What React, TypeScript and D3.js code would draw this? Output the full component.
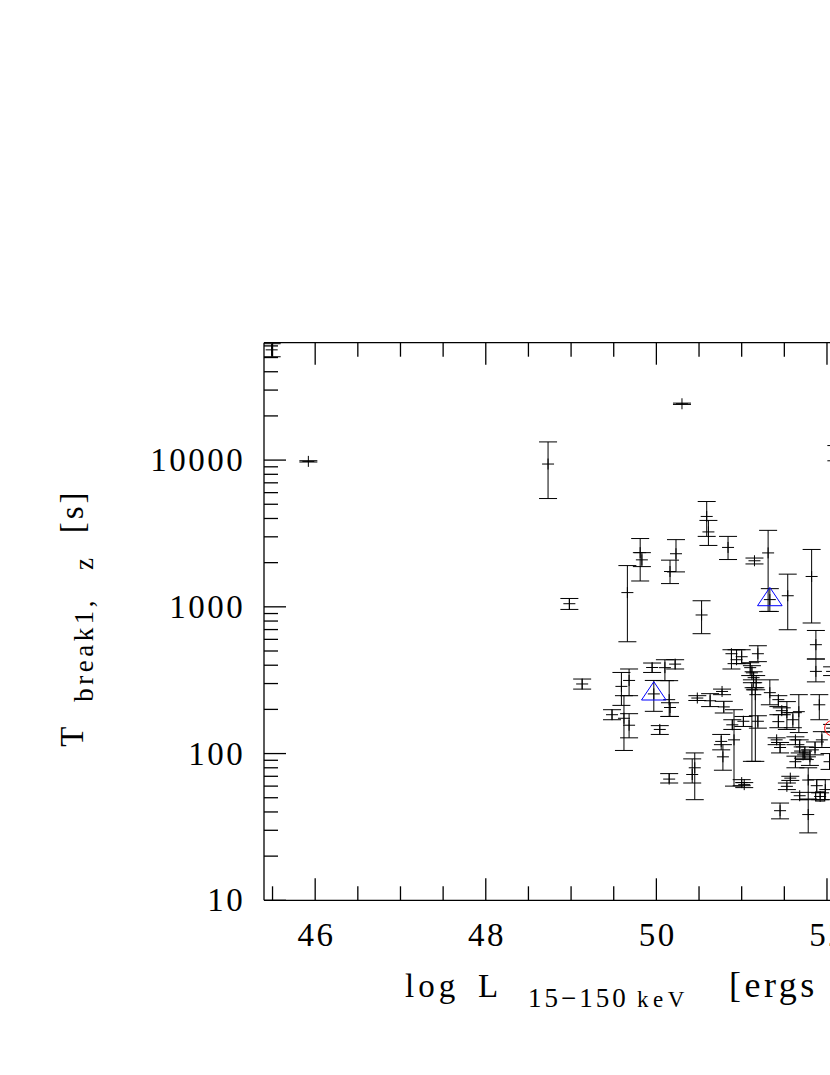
import React from "react";
import * as d3 from "d3";

// log L (15-150 keV), T_break1 (s), lower / upper error-bar ends (s)
const logL = [
  45.49, 45.92, 48.73, 50.30, 52.11, 50.59, 50.61, 50.84, 49.66, 49.81,
  49.83, 50.23, 50.16, 48.98, 51.15, 51.31, 51.33, 50.53, 51.54, 51.82,
  51.87, 51.87, 49.13, 49.68, 49.59, 49.68, 49.62, 49.48, 49.97, 49.95,
  50.10, 50.22, 50.15, 50.16, 50.04, 50.15, 50.45, 50.42, 50.76, 50.78,
  50.48, 50.63, 50.77, 50.79, 50.88, 50.94, 51.00, 51.19, 51.10, 51.12,
  51.14, 51.17, 51.12, 51.16, 51.33, 51.43, 51.53, 51.67, 51.91, 51.47,
  51.43, 51.02, 51.19, 50.91, 50.89, 51.00, 51.03, 51.63, 51.68, 51.74,
  51.80, 51.86, 51.94, 51.57, 51.63, 51.72, 51.68, 51.78, 51.88, 51.92,
  51.98, 51.45, 51.53, 51.60, 51.45, 51.41, 52.06, 52.06, 52.03, 51.78,
];
const tBreak = [
  56400, 9800, 9400, 24200, 11200, 4130, 3240, 2540, 1250, 2340,
  2090, 2300, 1740, 1050, 2060, 2330, 1120, 880, 1190, 1610,
  552, 363, 298, 315, 287, 156, 174, 184, 255, 386,
  385, 407, 233, 206, 146, 67, 80, 72, 121, 95,
  239, 229, 265, 208, 479, 436, 457, 479, 385, 355,
  329, 304, 272, 252, 260, 233, 190, 193, 215, 196,
  165, 166, 166, 124, 157, 63.4, 61.4, 124, 111, 101,
  95, 110, 124, 68, 88, 98, 51.6, 38.4, 60.4, 51,
  56.8, 40.8, 59.8, 170, 110, 124, 363, 149, 88, 66,
];
const tLow = [
  50600, 9700, 5470, 23950, 9890, 3020, 2620, 2100, 578, 1500,
  1880, 1730, 1440, 960, 1960, 930, 930, 656, 698, 776,
  441, 308, 275, 248, 213, 128, 105, 170, 194, 357,
  314, 377, 179, 179, 135, 63, 48.5, 63, 106, 77,
  230, 209, 252, 189, 377, 410, 410, 423, 340, 318,
  281, 272, 88.5, 88.5, 215, 209, 146, 139, 170, 184,
  150, 153, 149, 60, 146, 60.4, 58.6, 115, 101, 91,
  83, 98, 110, 65.6, 80, 93, 48.5, 28.8, 54.4, 48.5,
  48.5, 35.9, 56.8, 150, 101, 115, 340, 140, 78, 49,
];
const tHigh = [
  62100, 9900, 13300, 24450, 12560, 5220, 3880, 3020, 1910, 2920,
  2340, 2870, 2080, 1140, 2150, 3320, 1330, 1100, 1670, 2460,
  690, 441, 322, 377, 357, 187, 248, 199, 315, 414,
  436, 436, 314, 222, 155, 73, 101, 92, 135, 115,
  248, 256, 275, 227, 510, 510, 510, 543, 416, 397,
  361, 340, 304, 281, 318, 248, 226, 252, 252, 205,
  184, 179, 181, 199, 170, 66.4, 63.4, 130, 124, 111,
  106, 120, 141, 70, 96, 104, 54.4, 48.5, 66.4, 54,
  66.4, 46, 63, 190, 119, 128, 390, 158, 100, 80,
];
// special markers
const triangleIdx = [16, 28];
const circleIdx = [87];
const squareIdx = [79];

const xTicksMajor = [46, 48, 50, 52];
const yTicksMajor = [10, 100, 1000, 10000];

const W = 830;
const H = 1075;

export default function App() {
  const x = d3.scaleLinear().domain([45.4, 53.4]).range([264, 946.4]);
  const y = d3.scaleLog().domain([10, Math.pow(10, 4.8)]).range([900.3, 342.7]);
  const [x0, x1] = x.range();
  const [yB, yT] = y.range();

  const xMinor = d3.range(45.5, 53.01, 0.5).filter((v) => Math.abs(v % 2) > 0.01);
  const yMinor: number[] = [];
  for (let e = 1; e <= 4; e++) {
    for (let m = 2; m <= 9; m++) {
      const v = m * Math.pow(10, e);
      if (v < Math.pow(10, 4.8)) yMinor.push(v);
    }
  }

  const font = "'Liberation Serif', 'Times New Roman', serif";
  const cap = 9; // half-width of error-bar caps (px)
  const plusH = 6; // "+" marker half-width
  const plusV = 5.5; // "+" marker half-height
  const bars = logL.map((lx, i) => {
    const px = x(lx);
    const py = y(tBreak[i]);
    const yl = y(tLow[i]);
    const yh = y(tHigh[i]);
    return (
      <g key={i} stroke="#000" strokeWidth={1} fill="none">
        <line x1={px} x2={px} y1={yl} y2={yh} />
        <line x1={px - cap} x2={px + cap} y1={yl} y2={yl} />
        <line x1={px - cap} x2={px + cap} y1={yh} y2={yh} />
        <line x1={px - plusH} x2={px + plusH} y1={py} y2={py} />
        <line x1={px} x2={px} y1={py - plusV} y2={py + plusV} />
      </g>
    );
  });

  return (
    <svg
      width={W}
      height={H}
      style={{ position: "absolute", left: 0, top: 0, background: "#fff" }}
    >
      <defs>
        <clipPath id="plot">
          <rect x={x0} y={yT} width={x1 - x0} height={yB - yT} />
        </clipPath>
      </defs>
      <rect x={0} y={0} width={W} height={H} fill="#fff" />

      <g clipPath="url(#plot)">
        {bars}
        {triangleIdx.map((i) => {
          const px = x(logL[i]);
          const py = y(tBreak[i]);
          return (
            <path
              key={"t" + i}
              d={`M${px},${py - 12.2}L${px + 12.3},${py + 6.1}L${px - 12.3},${py + 6.1}Z`}
              fill="none"
              stroke="#0000ff"
              strokeWidth={1}
            />
          );
        })}
        {circleIdx.map((i) => (
          <circle key={"c" + i} cx={x(logL[i])} cy={y(tBreak[i])} r={7.5} fill="none" stroke="#ff0000" strokeWidth={1} />
        ))}
        {squareIdx.map((i) => (
          <rect key={"s" + i} x={x(logL[i]) - 4.5} y={y(tBreak[i]) - 4.5} width={9} height={9} fill="none" stroke="#000" strokeWidth={1.2} />
        ))}
      </g>

      {/* frame */}
      <g stroke="#000" strokeWidth={1.3} fill="none">
        <line x1={x0} x2={x0} y1={yT} y2={yB} />
        <line x1={x0} x2={x1} y1={yT} y2={yT} />
        <line x1={x0} x2={x1} y1={yB} y2={yB} />
        <line x1={x1} x2={x1} y1={yT} y2={yB} />
        {xTicksMajor.map((v) => (
          <g key={"xm" + v}>
            <line x1={x(v)} x2={x(v)} y1={yB} y2={yB - 22} />
            <line x1={x(v)} x2={x(v)} y1={yT} y2={yT + 22} />
          </g>
        ))}
        {xMinor.map((v) => (
          <g key={"xn" + v}>
            <line x1={x(v)} x2={x(v)} y1={yB} y2={yB - 14} />
            <line x1={x(v)} x2={x(v)} y1={yT} y2={yT + 14} />
          </g>
        ))}
        {yTicksMajor.map((v) => (
          <line key={"ym" + v} x1={x0} x2={x0 + 22} y1={y(v)} y2={y(v)} />
        ))}
        {yMinor.map((v) => (
          <line key={"yn" + v} x1={x0} x2={x0 + 14} y1={y(v)} y2={y(v)} />
        ))}
      </g>

      {/* tick labels */}
      <g fontFamily={font} fontSize={33} fill="#000" style={{ letterSpacing: "2.5px" }}>
        {xTicksMajor.map((v) => (
          <text key={"xl" + v} x={x(v) + 1.25} y={946} textAnchor="middle">
            {v}
          </text>
        ))}
        {yTicksMajor.map((v) => (
          <text key={"yl" + v} x={245.2} y={y(v) + 11} textAnchor="end">
            {v}
          </text>
        ))}
      </g>

      {/* x axis label */}
      <g fontFamily={font} fill="#000">
        <text x={405} y={996.5} fontSize={33} style={{ letterSpacing: "4px" }}>log</text>
        <text x={478} y={996.5} fontSize={33}>L</text>
        <text x={528} y={1006.7} fontSize={27} style={{ letterSpacing: "3px" }}>15−150</text>
        <text x={637} y={1006.7} fontSize={23} style={{ letterSpacing: "4.5px" }}>keV</text>
        <text x={729} y={996.5} fontSize={36} style={{ letterSpacing: "3.5px" }}>[ergs</text>
      </g>

      {/* y axis label */}
      <g fontFamily={font} fill="#000">
        <text transform="translate(83.3,746.7) rotate(-90)" fontSize={33}>T</text>
        <text transform="translate(93.3,701.7) rotate(-90)" fontSize={27} style={{ letterSpacing: "3.5px" }}>break1,</text>
        <text transform="translate(93.3,570) rotate(-90)" fontSize={27}>z</text>
        <text transform="translate(83.3,533.3) rotate(-90)" fontSize={33} style={{ letterSpacing: "3px" }}>[s]</text>
      </g>
    </svg>
  );
}
